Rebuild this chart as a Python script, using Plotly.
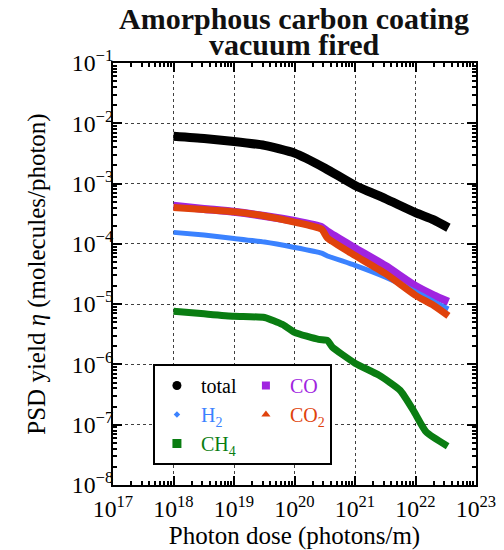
import plotly.graph_objects as go

# ---- data ----
total_x = [1.0e18, 3.2e18, 1.0e19, 3.2e19, 1.0e20, 3.2e20, 1.0e21, 3.2e21, 1.0e22, 2.0e22, 3.5e22]
total_y = [6.1e-3, 5.6e-3, 5.0e-3, 4.3e-3, 3.2e-3, 1.8e-3, 9.3e-4, 5.6e-4, 3.3e-4, 2.5e-4, 1.85e-4]

co_x = [1.0e18, 3.2e18, 1.0e19, 3.2e19, 1.0e20, 2.8e20, 3.5e20, 1.0e21, 3.2e21, 1.0e22, 2.0e22, 3.5e22]
co_y = [4.3e-4, 3.8e-4, 3.4e-4, 2.9e-4, 2.4e-4, 1.9e-4, 1.6e-4, 8.5e-5, 4.3e-5, 2.0e-5, 1.4e-5, 1.1e-5]

co2_x = [1.0e18, 3.2e18, 1.0e19, 3.2e19, 1.0e20, 2.8e20, 3.5e20, 1.0e21, 3.2e21, 1.0e22, 2.0e22, 3.5e22]
co2_y = [4.0e-4, 3.7e-4, 3.4e-4, 2.9e-4, 2.3e-4, 1.75e-4, 1.25e-4, 6.4e-5, 3.2e-5, 1.4e-5, 9.5e-6, 6.4e-6]

h2_x = [1.0e18, 3.2e18, 1.0e19, 3.2e19, 1.0e20, 2.8e20, 3.5e20, 1.0e21, 3.2e21, 1.0e22, 2.0e22, 3.5e22]
h2_y = [1.55e-4, 1.4e-4, 1.23e-4, 1.07e-4, 8.7e-5, 7.0e-5, 6.3e-5, 4.4e-5, 2.8e-5, 1.6e-5, 1.1e-5, 8.3e-6]

ch4_x = [1.0e18, 3.2e18, 1.0e19, 3.2e19, 6.3e19, 1.0e20, 2.5e20, 3.5e20, 4.2e20, 1.0e21, 2.5e21, 5.6e21, 9.3e21, 1.5e22, 3.4e22]
ch4_y = [7.6e-6, 6.9e-6, 6.3e-6, 6.0e-6, 4.6e-6, 3.4e-6, 2.6e-6, 2.5e-6, 1.95e-6, 1.05e-6, 6.6e-7, 3.7e-7, 1.7e-7, 7.6e-8, 4.4e-8]

FONT = "'Liberation Serif', 'Times New Roman', Times, serif"
C_TOTAL = "#000000"
C_H2 = "#3b82ff"
C_CH4 = "#0a7d12"
C_CO = "#a024e0"
C_CO2 = "#e0420c"

series = [
    ("total", total_x, total_y, C_TOTAL, 9, "circle", 9, "g1"),
    ("CO", co_x, co_y, C_CO, 8, "square", 8, "g2"),
    ("H<sub>2</sub>", h2_x, h2_y, C_H2, 5, "diamond", 5, "g1"),
    ("CO<sub>2</sub>", co2_x, co2_y, C_CO2, 7, "triangle-up", 8, "g2"),
    ("CH<sub>4</sub>", ch4_x, ch4_y, C_CH4, 7, "square", 9, "g1"),
]

fig = go.Figure()
for name, xs, ys, col, lw, sym, ms, grp in series:
    fig.add_trace(go.Scatter(x=xs, y=ys, mode="lines",
                             line=dict(color=col, width=lw, shape="spline", smoothing=0.5),
                             showlegend=False, hoverinfo="skip"))

order = [0, 2, 4, 1, 3]
for i in order:
    name, xs, ys, col, lw, sym, ms, grp = series[i]
    fig.add_trace(go.Scatter(x=[None], y=[None], mode="markers",
                             marker=dict(color=col, symbol=sym, size=ms),
                             name=f'<span style="color:{col}">{name}</span>',
                             legendgroup=grp, showlegend=True))

axis_common = dict(
    type="log", showline=True, linecolor="black", linewidth=2, mirror="ticks",
    ticks="inside", ticklen=9, tickwidth=1.5, tickcolor="black",
    showgrid=True, gridcolor="rgba(0,0,0,0.75)", gridwidth=1, griddash="dot",
    exponentformat="power", dtick=1, zeroline=False, automargin=False,
    tickfont=dict(family=FONT, size=19, color="black"),
    minor=dict(ticks="inside", ticklen=4, tickcolor="black", showgrid=False),
)

pw, ph = 504 - 113 - 28, 550 - 63 - 65
def px(x):
    return (x - 113) / pw
def py(y):
    return (550 - 65 - y) / ph

fig.update_layout(
    width=504, height=550,
    margin=dict(l=113, r=28, t=63, b=65, autoexpand=False),
    paper_bgcolor="white", plot_bgcolor="white",
    font=dict(family=FONT, color="black"),
    xaxis=dict(**axis_common, range=[17, 23], ticklabelstandoff=2,
               title=dict(text="Photon dose (photons/m)", font=dict(family=FONT, size=25), standoff=8)),
    yaxis=dict(**axis_common, range=[-8, -1], ticklabelstandoff=-6,
               title=dict(text="PSD yield <i>η</i> (molecules/photon)", font=dict(family=FONT, size=25), standoff=19)),
    legend=dict(x=0.11, y=0.2867, xanchor="left", yanchor="top",
                orientation="h", traceorder="grouped", tracegroupgap=0, itemwidth=38,
                bgcolor="white", bordercolor="black", borderwidth=2,
                font=dict(family=FONT, size=20)),
    showlegend=True,
)
fig.add_annotation(text="<b>Amorphous carbon coating</b>", x=px(294), y=py(0), xref="paper", yref="paper",
                   showarrow=False, font=dict(family=FONT, size=30, color="#111"), yanchor="top")
fig.add_annotation(text="<b>vacuum fired</b>", x=px(294), y=py(45), xref="paper", yref="paper",
                   showarrow=False, font=dict(family=FONT, size=30, color="#111"), yanchor="middle")

fig.write_html("out.html")
